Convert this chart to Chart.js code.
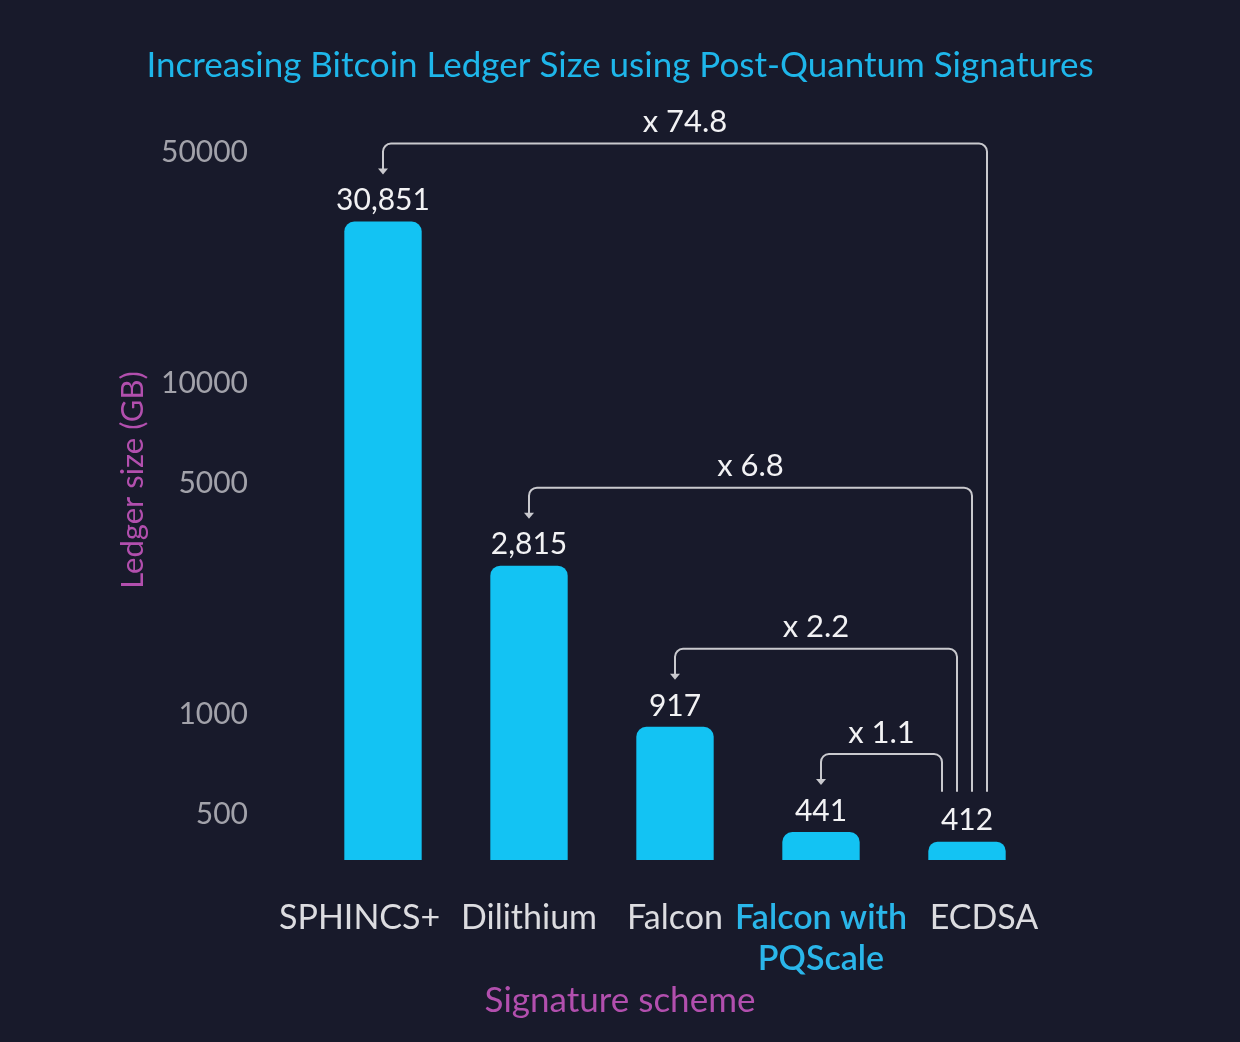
<!DOCTYPE html>
<html>
<head>
<meta charset="utf-8">
<script src="https://cdn.jsdelivr.net/npm/chart.js@4.4.1/dist/chart.umd.min.js"></script>
<style>
  html,body{margin:0;padding:0;background:#181a2b;}
  #wrap{width:1240px;height:1042px;position:relative;}
</style>
</head>
<body>
<div id="wrap"><canvas id="chart-ledger"></canvas></div>
<script>
const SCHEMES = ['SPHINCS+', 'Dilithium', 'Falcon', ['Falcon with', 'PQScale'], 'ECDSA'];
const LEDGER_GB = [30851, 2815, 917, 441, 412];
const Y_TICKS = [500, 1000, 5000, 10000, 50000];
const RATIOS = ['x 74.8', 'x 6.8', 'x 2.2', 'x 1.1'];

const FONT = 'Lato, "Open Sans", sans-serif';
const CYAN = '#13c3f3';
const PURPLE = '#b24fae';

// value labels above bars + the "x N" brackets pointing from ECDSA
const annot = {
  id:'annot',
  afterDatasetsDraw(chart){
    const {ctx} = chart;
    const bars = chart.getDatasetMeta(0).data;
    const last = bars[bars.length-1];
    ctx.save();
    ctx.font = '30px '+FONT; ctx.fillStyle = '#f2f2f4';
    ctx.textAlign = 'center'; ctx.textBaseline = 'bottom';
    bars.forEach((b,i)=>ctx.fillText(LEDGER_GB[i].toLocaleString('en-US'), b.x, b.y-6));

    ctx.strokeStyle = '#c9c9ce'; ctx.fillStyle = '#c9c9ce'; ctx.lineWidth = 2;
    const endY = last.y - 50, r = 8;
    RATIOS.forEach((txt,i)=>{
      const b = bars[i];
      const hy = b.y - 78;
      const vx = last.x - 25 + (RATIOS.length-1-i)*15;
      const tipY = b.y - 47;
      ctx.beginPath();
      ctx.moveTo(vx,endY); ctx.lineTo(vx,hy+r); ctx.arcTo(vx,hy,vx-r,hy,r);
      ctx.lineTo(b.x+r,hy); ctx.arcTo(b.x,hy,b.x,hy+r,r); ctx.lineTo(b.x,tipY-4);
      ctx.stroke();
      ctx.beginPath();
      ctx.moveTo(b.x-5,tipY-6); ctx.lineTo(b.x+5,tipY-6); ctx.lineTo(b.x,tipY); ctx.closePath(); ctx.fill();
      ctx.save(); ctx.fillStyle = '#f2f2f4'; ctx.font = '31px '+FONT;
      ctx.fillText(txt,(b.x+vx)/2,hy-6); ctx.restore();
    });
    ctx.restore();
  }
};

new Chart(document.getElementById('chart-ledger').getContext('2d'),{
  type:'bar',
  data:{labels:SCHEMES,datasets:[{
    data:LEDGER_GB, backgroundColor:CYAN, yAxisID:'y',
    barPercentage:0.53, categoryPercentage:1,
    borderRadius:{topLeft:10,topRight:10,bottomLeft:0,bottomRight:0}, borderSkipped:false
  }]},
  options:{
    responsive:true, maintainAspectRatio:false, animation:false, devicePixelRatio:1,
    layout:{padding:0},
    plugins:{
      legend:{display:false}, tooltip:{enabled:false},
      title:{display:true,text:'Increasing Bitcoin Ledger Size using Post-Quantum Signatures',
        color:'#1eb6ea',font:{family:FONT,size:35,weight:'normal',lineHeight:1.2},padding:{top:45,bottom:13}},
      subtitle:{display:true,position:'bottom',text:'Signature scheme',color:PURPLE,
        font:{family:FONT,size:35,weight:'normal',lineHeight:1.2},padding:{top:0,bottom:20}}
    },
    scales:{
      x:{
        grid:{display:false,drawTicks:false}, border:{display:false},
        ticks:{padding:38,autoSkip:false,maxRotation:0,
          // outer labels are nudged outwards (invisible padding) so they don't collide
          callback:function(v,i){
            const l=this.getLabelForValue(v);
            if(i===0) return l+'\u2003\u2002\u2009';
            if(i===SCHEMES.length-1) return '\u2003\u2009\u2009'+l;
            return l;
          },
          color:c=>c.index===3?'#2ab6ea':'#dcdce0',
          font:c=>({family:FONT,size:34,weight:c.index===3?'600':'normal',lineHeight:1.2})},
        afterFit:s=>{s.height=120;}
      },
      y:{
        type:'logarithmic', min:363, max:71900,
        grid:{display:false,drawTicks:false}, border:{display:false},
        afterBuildTicks:s=>{s.ticks=Y_TICKS.map(v=>({value:v}));},
        ticks:{padding:62,color:'#a2a2aa',font:{family:FONT,size:30},callback:v=>String(v)},
        title:{display:true,text:'Ledger size (GB)',color:PURPLE,font:{family:FONT,size:31,lineHeight:1.2},padding:{top:114,bottom:0}},
        afterFit:s=>{s.width=310;}
      },
      // empty right-hand axis, only reserves the space to the right of the bars
      yRight:{
        position:'right', display:true,
        grid:{display:false,drawTicks:false}, border:{display:false},
        ticks:{display:false},
        afterFit:s=>{s.width=200;}
      }
    }
  },
  plugins:[annot]
});
</script>
</body>
</html>
